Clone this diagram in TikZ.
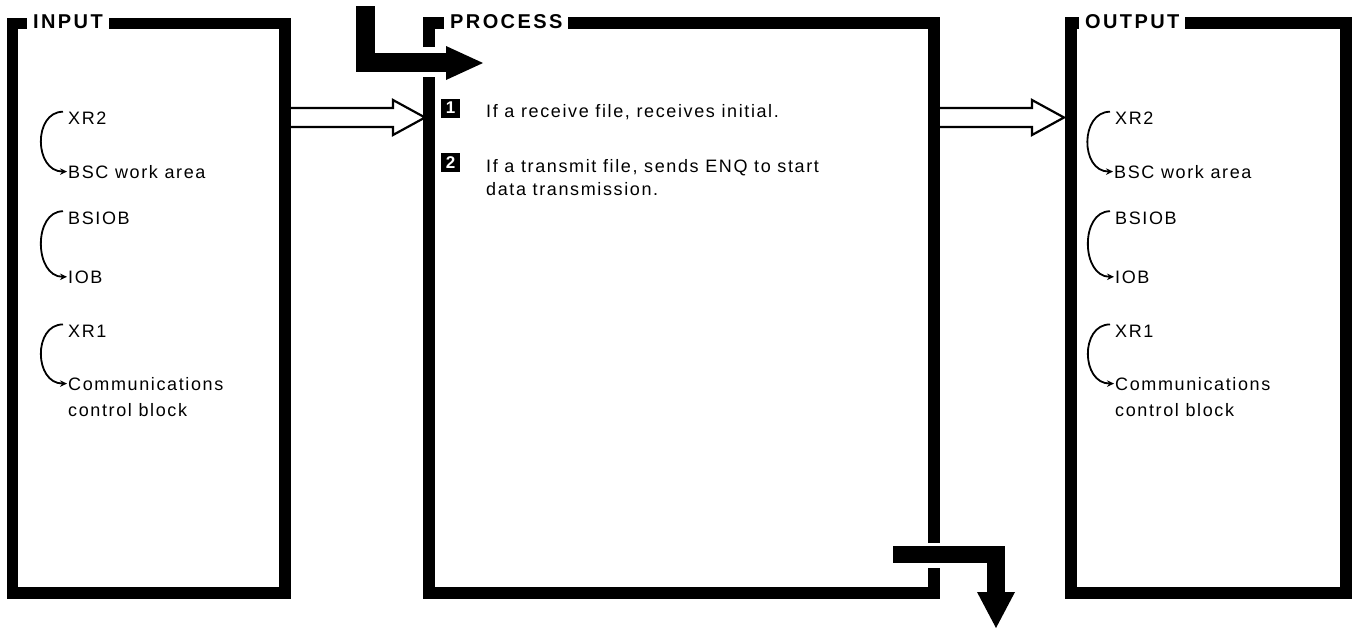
\documentclass[tikz,border=0pt]{standalone}
\usepackage{fontspec}
\setmainfont{Liberation Sans}
\newfontfamily\labelfont[LetterSpace=9]{Liberation Sans}
\newfontfamily\headfont[LetterSpace=12]{Liberation Sans}
\usetikzlibrary{arrows.meta,calc}

% hollow double-line arrow from #1 (shaft start) to #2 (tip)
\newcommand\hollowarrow[2]{%
  \draw[hollow] ($(#1)+(0,-9.5)$) -- ($(#2)+(-32,-9.5)$) -- ($(#2)+(-32,-17.5)$)
    -- (#2) -- ($(#2)+(-32,17.5)$) -- ($(#2)+(-32,9.5)$) -- ($(#1)+(0,9.5)$);}

\begin{document}
\begin{tikzpicture}[x=1pt,y=-1pt,
  frame/.style={line width=11.5pt, line join=miter},
  flowbar/.style={line width=18.5pt, line join=miter},
  hollow/.style={line width=2.2pt, line join=miter},
  title/.style={fill=white, inner xsep=6pt, inner ysep=2pt, anchor=west,
    font=\headfont\bfseries\fontsize{20}{24}\selectfont},
  txt/.style={inner sep=0pt, anchor=base west,
    font=\labelfont\fontsize{18}{21}\selectfont},
  curv/.style={line width=1.8pt, shorten >=1pt, -{Stealth[length=7pt,width=6.5pt]}},
  numbox/.style={fill=black, text=white, minimum width=19pt, minimum height=19pt,
    inner sep=0pt, font=\bfseries\fontsize{17}{19}\selectfont}]
\useasboundingbox (0,0) rectangle (1352,635);

% ---- INPUT box
\draw[frame] (12.5,23.5) rectangle (285,593);
\node[title] (tin) at (27,21.5) {INPUT};

% ---- PROCESS box (left side opened for the entry arrow, right side for the exit arrow)
\draw[frame] (429,47) -- (429,23) -- (934,23) -- (934,543);
\draw[frame] (934,568) -- (934,593) -- (429,593) -- (429,77);
\node[title] (tproc) at (444,21.5) {PROCESS};

% ---- OUTPUT box
\draw[frame] (1071,23) rectangle (1346,593);
\node[title] (tout) at (1079,21.5) {OUTPUT};

% ---- entry and exit flow arrows
\coordinate (entrytop) at (365.5,6);
\coordinate (entrycorner) at (365.5,62.5);
\coordinate (entrytip) at (483,63);
\draw[flowbar] (entrytop) -- (entrycorner) -- ($(entrytip)+(-36,-0.5)$);
\fill ($(entrytip)+(-37,-17)$) -- (entrytip) -- ($(entrytip)+(-37,17)$) -- cycle;

\coordinate (exitstart) at (893,554.5);
\coordinate (exitcorner) at (996,554.5);
\coordinate (exittip) at (996,628);
\draw[line width=17.5pt, line join=miter] (exitstart) -- (exitcorner) -- ($(exittip)+(0,-35)$);
\fill ($(exittip)+(-19,-36)$) -- (exittip) -- ($(exittip)+(19,-36)$) -- cycle;

% ---- hollow arrows between the boxes
\coordinate (inR) at (291,117.5);
\coordinate (procL) at (425,117.5);
\coordinate (procR) at (940,117.5);
\coordinate (outL) at (1064,117.5);
\hollowarrow{inR}{procL}
\hollowarrow{procR}{outL}

% ---- INPUT contents
\node[txt] (ixr2) at (68,124.5) {XR2};
\node[txt] (ibsc) at (68,178) {BSC work area};
\node[txt] (ibsiob) at (68,224) {BSIOB};
\node[txt] (iiob) at (68,283) {IOB};
\node[txt] (ixr1) at (68,337) {XR1};
\node[txt] (icomm) at (68,390) {Communications};
\node[txt] (ictrl) at (68,416) {control block};
\draw[curv] ($(ixr2.north west)+(-5,0)$) .. controls +(-30,0) and +(-34,0) .. (ibsc.west);
\draw[curv] ($(ibsiob.north west)+(-5,0)$) .. controls +(-30,0) and +(-34,0) .. (iiob.west);
\draw[curv] ($(ixr1.north west)+(-5,0)$) .. controls +(-30,0) and +(-34,0) .. (icomm.west);

% ---- PROCESS contents
\node[numbox] (n1) at (450.5,108) {1};
\node[txt] (p1) at (486,117) {If a receive file, receives initial.};
\node[numbox] (n2) at (450.5,162.5) {2};
\node[txt] (p2) at (486,172) {If a transmit file, sends ENQ to start};
\node[txt] (p3) at (486,195) {data transmission.};

% ---- OUTPUT contents
\node[txt] (oxr2) at (1115,124.5) {XR2};
\node[txt] (obsc) at (1114,178) {BSC work area};
\node[txt] (obsiob) at (1115,224) {BSIOB};
\node[txt] (oiob) at (1115,283) {IOB};
\node[txt] (oxr1) at (1115,337) {XR1};
\node[txt] (ocomm) at (1115,390) {Communications};
\node[txt] (octrl) at (1115,416) {control block};
\draw[curv] ($(oxr2.north west)+(-5,0)$) .. controls +(-30,0) and +(-34,0) .. (obsc.west);
\draw[curv] ($(obsiob.north west)+(-5,0)$) .. controls +(-30,0) and +(-34,0) .. (oiob.west);
\draw[curv] ($(oxr1.north west)+(-5,0)$) .. controls +(-30,0) and +(-34,0) .. (ocomm.west);
\end{tikzpicture}
\end{document}
